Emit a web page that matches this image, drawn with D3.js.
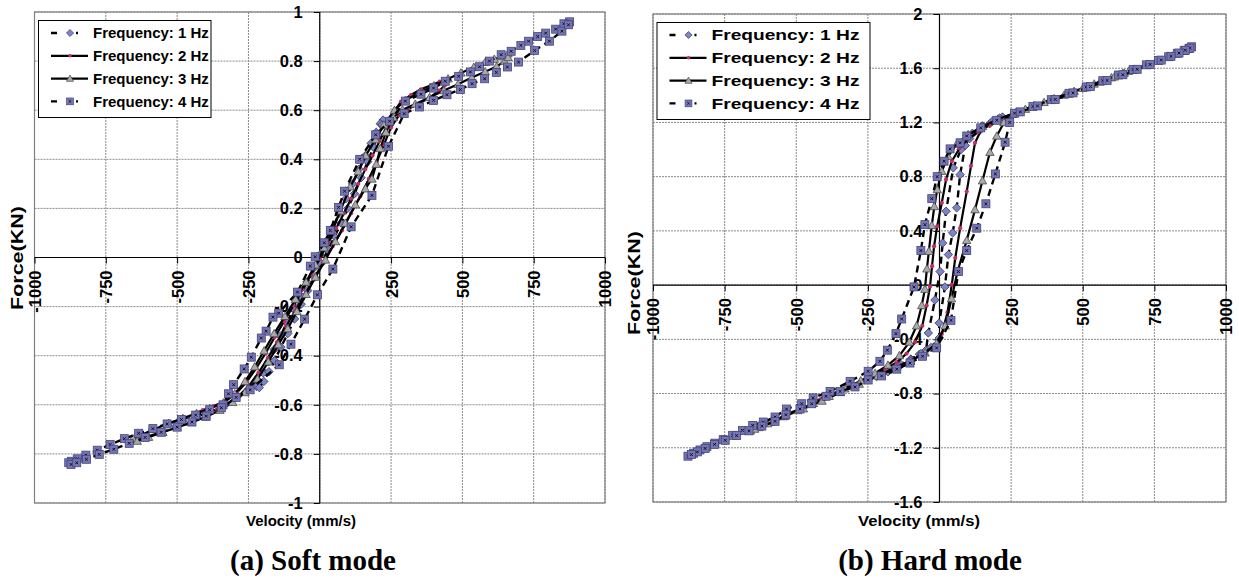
<!DOCTYPE html>
<html>
<head>
<meta charset="utf-8">
<script src="https://cdn.jsdelivr.net/npm/d3@7"></script>
<style>
  body { margin: 0; background: #fff; }
  svg { display: block; }
</style>
</head>
<body>
<svg id="fig" width="1239" height="583"></svg>
<script>
// ---- Chart data: damper force (kN) against piston velocity (mm/s) ----
const seriesNames = ["Frequency: 1 Hz", "Frequency: 2 Hz", "Frequency: 3 Hz", "Frequency: 4 Hz"];
const velocityTicks = [-1000, -750, -500, -250, 0, 250, 500, 750, 1000];
const softForceTicks = [-1, -0.8, -0.6, -0.4, -0.2, 0, 0.2, 0.4, 0.6, 0.8, 1];
const hardForceTicks = [-1.6, -1.2, -0.8, -0.4, 0, 0.4, 0.8, 1.2, 1.6, 2];
const panelTitles = ["(a) Soft mode", "(b) Hard mode"];

// Soft mode loops, [velocity, force]
const soft1Hz = [[222,0.560],[212,0.545],[198,0.510],[180,0.465],[160,0.415],[138,0.360],[115,0.300],[92,0.240],[68,0.180],[45,0.120],[22,0.065],[0,0.010],[-22,-0.045],[-45,-0.100],[-68,-0.155],[-92,-0.210],[-115,-0.265],[-138,-0.320],[-160,-0.375],[-180,-0.425],[-198,-0.470],[-212,-0.505],[-222,-0.525],
  [-212,-0.530],[-196,-0.505],[-178,-0.465],[-158,-0.420],[-136,-0.365],[-112,-0.310],[-88,-0.250],[-65,-0.190],[-42,-0.135],[-18,-0.080],[5,-0.025],[28,0.030],[52,0.085],[75,0.140],[98,0.200],[122,0.260],[145,0.325],[168,0.390],[188,0.450],[205,0.500],[218,0.540]];
const soft2Hz = [[440,0.722],[420,0.716],[390,0.702],[355,0.685],[320,0.662],[285,0.635],[258,0.590],[235,0.535],[210,0.475],[185,0.415],[160,0.360],[135,0.300],[110,0.240],[85,0.180],[58,0.120],[30,0.060],[0,-0.005],[-30,-0.070],[-60,-0.130],[-92,-0.195],[-125,-0.260],[-158,-0.325],[-190,-0.390],[-222,-0.450],[-255,-0.505],[-290,-0.550],[-330,-0.585],[-372,-0.605],[-410,-0.622],[-438,-0.635],
  [-425,-0.645],[-395,-0.634],[-360,-0.618],[-322,-0.596],[-285,-0.565],[-250,-0.525],[-215,-0.470],[-182,-0.410],[-150,-0.345],[-118,-0.280],[-85,-0.215],[-52,-0.150],[-20,-0.085],[12,-0.020],[45,0.045],[78,0.110],[110,0.180],[142,0.250],[172,0.320],[200,0.390],[225,0.460],[250,0.530],[278,0.580],[310,0.605],[345,0.625],[385,0.652],[420,0.680],[438,0.700]];
const soft3Hz = [[660,0.830],[640,0.818],[612,0.808],[580,0.795],[540,0.775],[495,0.752],[450,0.728],[400,0.700],[350,0.672],[300,0.640],[262,0.600],[225,0.540],[195,0.480],[161,0.415],[135,0.350],[107,0.288],[72,0.190],[45,0.110],[15,0.040],[-15,-0.030],[-48,-0.100],[-85,-0.170],[-122,-0.240],[-160,-0.310],[-195,-0.380],[-228,-0.445],[-262,-0.505],[-298,-0.555],[-338,-0.592],[-385,-0.615],[-432,-0.635],[-480,-0.655],[-530,-0.675],[-580,-0.700],[-625,-0.722],[-655,-0.738],
  [-640,-0.748],[-600,-0.732],[-550,-0.712],[-500,-0.692],[-450,-0.672],[-400,-0.650],[-350,-0.622],[-305,-0.590],[-262,-0.550],[-218,-0.495],[-180,-0.425],[-145,-0.355],[-112,-0.290],[-80,-0.220],[-48,-0.150],[-15,-0.080],[20,-0.010],[55,0.065],[90,0.140],[125,0.215],[160,0.280],[183,0.320],[198,0.380],[212,0.444],[232,0.510],[258,0.570],[290,0.602],[335,0.625],[385,0.652],[435,0.680],[485,0.706],[533,0.733],[580,0.757],[620,0.778],[648,0.800],[660,0.815]];
const soft4Hz = [[876,0.960],[856,0.952],[827,0.930],[792,0.914],[764,0.900],[732,0.881],[705,0.864],[671,0.840],[636,0.826],[595,0.800],[560,0.777],[528,0.756],[487,0.738],[440,0.718],[399,0.690],[355,0.665],[300,0.637],[245,0.555],[196,0.500],[140,0.400],[87,0.270],[66,0.204],[37,0.110],[16,0.060],[-16,0.003],[-33,-0.035],[-78,-0.141],[-144,-0.227],[-164,-0.243],[-188,-0.300],[-205,-0.328],[-240,-0.406],[-265,-0.454],[-302,-0.518],[-320,-0.555],[-339,-0.600],[-386,-0.620],[-435,-0.642],[-485,-0.660],[-535,-0.678],[-585,-0.697],[-635,-0.716],[-685,-0.738],[-735,-0.762],[-780,-0.785],[-820,-0.805],[-850,-0.820],[-870,-0.830],[-880,-0.836],
  [-872,-0.843],[-852,-0.836],[-818,-0.822],[-773,-0.802],[-722,-0.781],[-668,-0.757],[-612,-0.733],[-556,-0.712],[-500,-0.691],[-448,-0.670],[-398,-0.646],[-345,-0.612],[-293,-0.570],[-244,-0.539],[-142,-0.437],[-101,-0.353],[-53,-0.251],[-8,-0.152],[46,-0.047],[110,0.125],[183,0.253],[241,0.453],[296,0.586],[350,0.613],[399,0.640],[446,0.663],[493,0.684],[534,0.708],[578,0.728],[619,0.754],[658,0.776],[697,0.796],[753,0.843],[805,0.881],[849,0.922],[872,0.948]];

// Hard mode loops, [velocity, force]
const hard1Hz = [[-220,-0.675],[-200,-0.655],[-170,-0.625],[-135,-0.585],[-100,-0.545],[-70,-0.510],[-47,-0.480],[-39,-0.353],[-16,-0.110],[2,0.100],[11,0.310],[23,0.545],[48,0.865],[75,1.000],[105,1.080],[140,1.140],[175,1.190],[205,1.225],[220,1.240],
  [210,1.232],[185,1.210],[150,1.175],[115,1.120],[90,1.030],[72,0.815],[60,0.570],[46,0.385],[31,0.225],[19,-0.013],[-1,-0.280],[-1,-0.390],[-30,-0.460],[-65,-0.505],[-100,-0.550],[-140,-0.600],[-180,-0.640],[-210,-0.665]];
const hard2Hz = [[-440,-0.862],[-410,-0.835],[-370,-0.800],[-325,-0.760],[-280,-0.715],[-235,-0.668],[-190,-0.620],[-150,-0.570],[-115,-0.505],[-85,-0.420],[-60,-0.300],[-45,-0.150],[-33,-0.010],[-26,0.140],[-19,0.286],[-8,0.434],[8,0.607],[23,0.780],[43,0.914],[70,1.010],[100,1.080],[135,1.130],[175,1.180],[220,1.225],[270,1.265],[325,1.310],[380,1.355],[420,1.385],[440,1.400],
  [425,1.388],[395,1.365],[355,1.335],[305,1.295],[255,1.255],[200,1.215],[150,1.165],[124,1.050],[110,0.880],[95,0.690],[72,0.420],[55,0.200],[43,0.004],[28,-0.200],[8,-0.360],[-20,-0.450],[-60,-0.510],[-105,-0.560],[-155,-0.610],[-210,-0.660],[-265,-0.710],[-320,-0.760],[-372,-0.805],[-415,-0.842],[-440,-0.862]];
const hard3Hz = [[-660,-1.075],[-630,-1.050],[-590,-1.012],[-545,-0.970],[-495,-0.925],[-440,-0.872],[-385,-0.820],[-330,-0.765],[-275,-0.705],[-225,-0.650],[-180,-0.590],[-140,-0.520],[-105,-0.420],[-80,-0.300],[-62,-0.150],[-51,-0.030],[-44,0.120],[-37,0.250],[-27,0.440],[-18,0.580],[-8,0.705],[8,0.840],[30,0.950],[60,1.040],[100,1.110],[150,1.170],[205,1.225],[265,1.272],[330,1.322],[400,1.376],[470,1.430],[540,1.484],[600,1.530],[640,1.562],[660,1.578],
  [645,1.564],[610,1.536],[560,1.498],[500,1.452],[435,1.402],[365,1.348],[300,1.298],[255,1.262],[225,1.200],[200,1.100],[176,0.980],[150,0.770],[124,0.557],[95,0.330],[63,0.100],[42,-0.100],[20,-0.300],[-10,-0.430],[-50,-0.500],[-100,-0.560],[-155,-0.615],[-215,-0.670],[-280,-0.730],[-345,-0.792],[-410,-0.855],[-475,-0.912],[-540,-0.968],[-600,-1.022],[-645,-1.062]];
const hard4Hz = [[-878,-1.262],[-858,-1.240],[-836,-1.216],[-812,-1.192],[-784,-1.166],[-755,-1.140],[-722,-1.108],[-688,-1.072],[-652,-1.035],[-615,-1.010],[-574,-0.973],[-534,-0.914],[-481,-0.875],[-441,-0.832],[-382,-0.784],[-312,-0.710],[-249,-0.636],[-208,-0.562],[-182,-0.480],[-152,-0.358],[-132,-0.250],[-89,-0.013],[-65,0.255],[-51,0.446],[-27,0.638],[-8,0.800],[16,0.914],[37,1.005],[72,1.050],[95,1.100],[144,1.160],[200,1.216],[262,1.268],[326,1.318],[390,1.368],[452,1.415],[512,1.462],[570,1.508],[625,1.550],[676,1.590],[722,1.625],[764,1.657],[800,1.685],[830,1.710],[854,1.730],[871,1.745],[880,1.758],
  [874,1.748],[858,1.733],[836,1.712],[808,1.688],[774,1.660],[735,1.628],[690,1.592],[640,1.552],[585,1.510],[527,1.465],[466,1.418],[404,1.370],[342,1.322],[282,1.278],[245,1.200],[229,1.054],[195,0.820],[162,0.600],[130,0.420],[95,0.255],[66,0.100],[40,-0.260],[-10,-0.463],[-59,-0.525],[-103,-0.575],[-149,-0.620],[-202,-0.670],[-249,-0.700],[-295,-0.751],[-347,-0.784],[-396,-0.820],[-446,-0.875],[-487,-0.914],[-536,-0.956],[-574,-1.005],[-620,-1.040],[-665,-1.075],[-708,-1.110],[-748,-1.145],[-785,-1.175],[-818,-1.205],[-845,-1.230],[-866,-1.250]];

// ---- Styling ----
const SANS = "'Liberation Sans', Arial, Helvetica, sans-serif";
const SERIF = "'Liberation Serif', 'Times New Roman', Times, serif";
const seriesStyle = [
  { dash: "7,5", width: 2.4, marker: "diamond" },
  { dash: null,  width: 2.2, marker: "dot" },
  { dash: null,  width: 2.2, marker: "triangle" },
  { dash: "7,5", width: 2.4, marker: "square" }
];

const svg = d3.select("#fig");
svg.append("rect").attr("width", 1239).attr("height", 583).attr("fill", "#fff");

function drawMarker(g, kind, cx, cy, scale = 1) {
  const m = g.append("g").attr("transform", `translate(${cx},${cy}) scale(${scale})`);
  if (kind === "diamond") {
    m.append("path").attr("d", "M0,-4.2L4.2,0L0,4.2L-4.2,0Z")
      .attr("fill", "#7d84c8").attr("stroke", "#34345e").attr("stroke-width", 0.8);
  } else if (kind === "dot") {
    m.append("circle").attr("r", 2.1).attr("fill", "#c42a66");
  } else if (kind === "triangle") {
    m.append("path").attr("d", "M0,-4.2L4.2,3.2L-4.2,3.2Z")
      .attr("fill", "#a9a9a9").attr("stroke", "#4a4a4a").attr("stroke-width", 0.8);
  } else {
    m.append("rect").attr("x", -4).attr("y", -4).attr("width", 8).attr("height", 8)
      .attr("fill", "#7676b6").attr("stroke", "#45457a").attr("stroke-width", 0.8);
    m.append("path").attr("d", "M-1.4,-1.4L1.4,1.4M-1.4,1.4L1.4,-1.4")
      .attr("stroke", "#101010").attr("stroke-width", 1);
  }
}

function drawPanel(cfg) {
  const x = d3.scaleLinear().domain([-1000, 1000]).range([cfg.left, cfg.right]);
  const y = d3.scaleLinear().domain(cfg.yDomain).range([cfg.bottom, cfg.top]);
  const g = svg.append("g");

  // gridlines
  g.append("g").selectAll("line").data(velocityTicks).join("line")
    .attr("x1", d => x(d)).attr("x2", d => x(d))
    .attr("y1", cfg.top).attr("y2", cfg.bottom)
    .attr("stroke", "#8a8a8a").attr("stroke-width", 1).attr("stroke-dasharray", "2,1");
  g.append("g").selectAll("line").data(cfg.forceTicks).join("line")
    .attr("x1", cfg.left).attr("x2", cfg.right)
    .attr("y1", d => y(d)).attr("y2", d => y(d))
    .attr("stroke", "#8a8a8a").attr("stroke-width", 1).attr("stroke-dasharray", "2,1");

  // plot area frame
  g.append("rect").attr("x", cfg.left).attr("y", cfg.top)
    .attr("width", cfg.right - cfg.left).attr("height", cfg.bottom - cfg.top)
    .attr("fill", "none").attr("stroke", "#808080").attr("stroke-width", 1.2);

  // force axis through zero velocity
  const yAxis = d3.axisLeft(y).tickValues(cfg.forceTicks).tickSize(6).tickPadding(11)
    .tickFormat(d => String(d));
  const ya = g.append("g").attr("transform", `translate(${x(0)},0)`).call(yAxis);
  ya.select(".domain").remove();
  ya.selectAll("line").attr("stroke", "#000");
  ya.selectAll("text").attr("font-family", SANS).attr("font-weight", "bold")
    .attr("font-size", 16.5).attr("fill", "#000");
  g.append("line").attr("x1", x(0)).attr("x2", x(0)).attr("y1", cfg.top).attr("y2", cfg.bottom)
    .attr("stroke", "#000").attr("stroke-width", 1.2);

  // velocity axis through zero force
  const xAxis = d3.axisBottom(x).tickValues(velocityTicks.filter(v => v !== 0)).tickSize(6)
    .tickFormat(d => String(d));
  const xa = g.append("g").attr("transform", `translate(0,${y(0)})`).call(xAxis);
  xa.select(".domain").remove();
  xa.selectAll("line").attr("stroke", "#000");
  xa.selectAll("text")
    .attr("transform", "rotate(-90)")
    .attr("x", -13).attr("y", 0).attr("dy", "0.36em")
    .attr("text-anchor", "end")
    .attr("font-family", SANS).attr("font-weight", "bold")
    .attr("font-size", 16.5).attr("fill", "#000");
  g.append("line").attr("x1", cfg.left).attr("x2", cfg.right).attr("y1", y(0)).attr("y2", y(0))
    .attr("stroke", "#000").attr("stroke-width", 1.2);

  // series: line first, then its markers
  const line = d3.line().x(d => x(d[0])).y(d => y(d[1]));
  cfg.series.forEach((data, i) => {
    const st = seriesStyle[i];
    const sg = g.append("g");
    sg.append("path").datum(data).attr("d", line)
      .attr("fill", "none").attr("stroke", "#000")
      .attr("stroke-width", st.width).attr("stroke-linejoin", "round")
      .attr("stroke-dasharray", st.dash);
    data.forEach(d => drawMarker(sg, st.marker, x(d[0]), y(d[1])));
  });

  // legend
  const lx = cfg.left + 4, ly = cfg.top + 8.5;
  const lg = g.append("g");
  lg.append("rect").attr("x", lx).attr("y", ly).attr("width", cfg.legendWidth).attr("height", 97)
    .attr("fill", "#fff").attr("stroke", "#000").attr("stroke-width", 1);
  seriesNames.forEach((name, i) => {
    const st = seriesStyle[i];
    const ry = ly + 12.5 + i * 22.8;
    lg.append("line").attr("x1", lx + 12.5).attr("x2", lx + (st.dash ? 45 : 49.5))
      .attr("y1", ry).attr("y2", ry)
      .attr("stroke", "#000").attr("stroke-width", st.width)
      .attr("stroke-dasharray", st.dash ? "6,19,2" : null);
    drawMarker(lg, st.marker, lx + 31.5, ry, 0.85);
    const t = lg.append("text").attr("x", lx + 54.5).attr("y", ry).attr("dy", "0.36em")
      .attr("font-family", SANS).attr("font-weight", "bold").attr("font-size", 15)
      .text(name);
    if (cfg.legendText) t.attr("textLength", cfg.legendText).attr("lengthAdjust", "spacingAndGlyphs");
  });

  // axis titles
  g.append("text").attr("transform", `translate(${cfg.forceX},${cfg.forceY}) rotate(-90)`)
    .attr("text-anchor", "middle").attr("dy", "0.36em")
    .attr("font-family", SANS).attr("font-weight", "bold").attr("font-size", 16)
    .attr("textLength", 104).attr("lengthAdjust", "spacingAndGlyphs")
    .text("Force(KN)");
  const vt = g.append("text").attr("x", cfg.velX).attr("y", 521).attr("dy", "0.36em")
    .attr("text-anchor", "middle")
    .attr("font-family", SANS).attr("font-weight", "bold").attr("font-size", 15)
    .text("Velocity (mm/s)");
  if (cfg.velText) vt.attr("textLength", cfg.velText).attr("lengthAdjust", "spacingAndGlyphs");

  // panel caption
  g.append("text").attr("x", cfg.titleX).attr("y", 570)
    .attr("text-anchor", "middle")
    .attr("font-family", SERIF).attr("font-weight", "bold").attr("font-size", 29)
    .text(cfg.title);
}

drawPanel({
  left: 34.5, right: 605, top: 12, bottom: 503,
  yDomain: [-1, 1], forceTicks: softForceTicks,
  series: [soft1Hz, soft2Hz, soft3Hz, soft4Hz],
  legendWidth: 172.5, legendText: null,
  forceX: 17.5, forceY: 258,
  velX: 301, velText: null,
  titleX: 313, title: panelTitles[0]
});
drawPanel({
  left: 653, right: 1226, top: 14, bottom: 502,
  yDomain: [-1.6, 2], forceTicks: hardForceTicks,
  series: [hard1Hz, hard2Hz, hard3Hz, hard4Hz],
  legendWidth: 213, legendText: 148,
  forceX: 634, forceY: 283,
  velX: 919, velText: 122,
  titleX: 930, title: panelTitles[1]
});
</script>
</body>
</html>
